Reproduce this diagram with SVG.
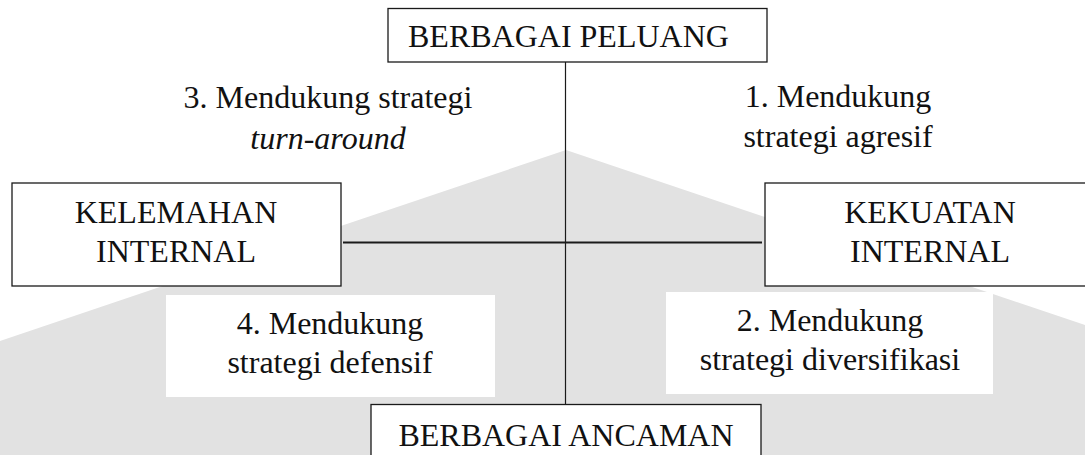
<svg xmlns="http://www.w3.org/2000/svg" width="1085" height="455" viewBox="0 0 1085 455">
  <style>
    .box { fill: #ffffff; stroke: #1a1a1a; stroke-width: 1.3; }
    .lbl { font-family: "Liberation Serif", "Times New Roman", serif; font-size: 32px; fill: #111111; }
    .mid { text-anchor: middle; }
    .it { font-style: italic; }
    .patch { fill: #ffffff; }
    .line { stroke: #1a1a1a; fill: none; }
  </style>

  <!-- page -->
  <rect x="0" y="0" width="1085" height="455" fill="#ffffff"/>

  <!-- faint background wedge -->
  <g id="backdrop">
    <polygon points="566,150 1085,325 1085,455 0,455 0,341" fill="#e2e2e2"/>
  </g>

  <!-- clear areas behind the quadrant captions -->
  <g id="caption-backgrounds">
    <rect class="patch" x="158" y="68" width="326" height="102"/>
    <rect class="patch" x="671" y="67" width="329" height="103"/>
    <rect class="patch" x="166" y="295" width="329" height="102"/>
    <rect class="patch" x="666" y="292" width="327" height="102"/>
  </g>

  <!-- axes -->
  <g id="connectors">
    <line class="line" x1="565.5" y1="62" x2="565.5" y2="404" stroke-width="1.2"/>
    <line class="line" x1="343" y1="242.5" x2="762" y2="242.5" stroke-width="2"/>
  </g>

  <g id="node-peluang">
    <rect class="box" x="388" y="8.5" width="379" height="53.5"/>
    <text class="lbl" x="408" y="47">BERBAGAI PELUANG</text>
  </g>

  <g id="node-kelemahan">
    <rect class="box" x="12" y="183" width="329" height="103"/>
    <text class="lbl mid" x="176" y="223">KELEMAHAN</text>
    <text class="lbl mid" x="176" y="262">INTERNAL</text>
  </g>

  <g id="node-kekuatan">
    <rect class="box" x="765" y="183" width="330" height="103"/>
    <text class="lbl mid" x="930" y="223">KEKUATAN</text>
    <text class="lbl mid" x="930" y="262">INTERNAL</text>
  </g>

  <g id="node-ancaman">
    <rect class="box" x="371" y="404.5" width="390" height="60"/>
    <text class="lbl mid" x="566" y="446">BERBAGAI ANCAMAN</text>
  </g>

  <!-- quadrant captions -->
  <g id="quadrant-1">
    <text class="lbl mid" x="838" y="107">1. Mendukung</text>
    <text class="lbl mid" x="838" y="147">strategi agresif</text>
  </g>
  <g id="quadrant-2">
    <text class="lbl mid" x="830" y="331">2. Mendukung</text>
    <text class="lbl mid" x="830" y="370">strategi diversifikasi</text>
  </g>
  <g id="quadrant-3">
    <text class="lbl mid" x="328" y="108">3. Mendukung strategi</text>
    <text class="lbl mid it" x="328" y="149">turn-around</text>
  </g>
  <g id="quadrant-4">
    <text class="lbl mid" x="330" y="334">4. Mendukung</text>
    <text class="lbl mid" x="330" y="373">strategi defensif</text>
  </g>
</svg>
